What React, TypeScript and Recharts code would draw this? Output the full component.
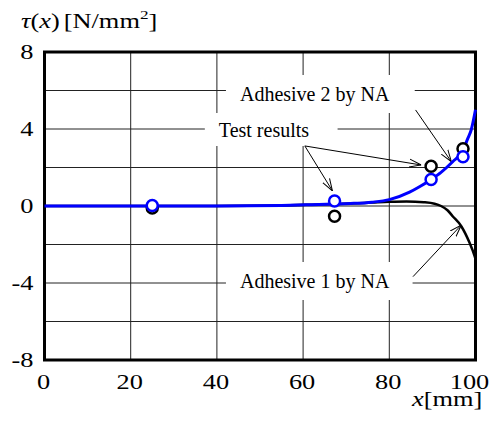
import {
  ComposedChart,
  Line,
  Scatter,
  XAxis,
  YAxis,
  CartesianGrid,
  ReferenceArea,
  ReferenceLine,
  Customized,
} from 'recharts';

// NA curves
const adhesive2NA = [
  { x: 0, y: 0 }, { x: 40, y: 0 }, { x: 55, y: 0.03 }, { x: 62, y: 0.07 },
  { x: 67, y: 0.1 }, { x: 71, y: 0.13 }, { x: 76, y: 0.2 }, { x: 80, y: 0.33 },
  { x: 84.7, y: 0.72 }, { x: 87, y: 1.0 }, { x: 89.7, y: 1.38 }, { x: 92, y: 1.75 },
  { x: 94.7, y: 2.3 }, { x: 97, y: 2.85 }, { x: 98.2, y: 3.5 }, { x: 99, y: 3.95 },
  { x: 100, y: 5.0 },
];

const adhesive1NA = [
  { x: 0, y: 0 }, { x: 40, y: 0 }, { x: 55, y: 0.03 }, { x: 62, y: 0.07 },
  { x: 67, y: 0.1 }, { x: 71, y: 0.13 }, { x: 76, y: 0.18 }, { x: 80, y: 0.22 },
  { x: 84, y: 0.24 }, { x: 88, y: 0.2 }, { x: 90.5, y: 0.12 }, { x: 92, y: 0 },
  { x: 93.5, y: -0.22 }, { x: 94.7, y: -0.53 }, { x: 96.7, y: -1.05 },
  { x: 98.6, y: -1.9 }, { x: 99.8, y: -2.6 }, { x: 100, y: -2.75 },
];

// circles
const naPoints = [
  { x: 25, y: 0.03 }, { x: 67.3, y: 0.26 }, { x: 89.7, y: 1.38 }, { x: 97.1, y: 2.56 },
];
const testResults = [
  { x: 25, y: -0.1 }, { x: 67.3, y: -0.53 }, { x: 89.7, y: 2.07 }, { x: 97.1, y: 2.97 },
];

const xTicks = [0, 20, 40, 60, 80, 100];
const yTicks = [-8, -4, 0, 4, 8];
const gridX = [20, 40, 60, 80];
const gridY = [-6, -4, -2, 0, 2, 4, 6];

// annotation boxes and arrows, in data units
const notes = [
  { text: 'Adhesive 2 by NA', x1: 42.1, x2: 85.9, y1: 4.83, y2: 6.8 },
  { text: 'Test results', x1: 37.2, x2: 68.0, y1: 3.12, y2: 4.83 },
  { text: 'Adhesive 1 by NA', x1: 42.1, x2: 85.4, y1: -4.88, y2: -2.91 },
];
const arrows = [
  [{ x: 86.1, y: 4.99 }, { x: 94.4, y: 2.3 }],
  [{ x: 60.4, y: 3.12 }, { x: 66.8, y: 0.79 }],
  [{ x: 60.4, y: 3.12 }, { x: 87.4, y: 2.13 }],
  [{ x: 85.5, y: -3.67 }, { x: 96.7, y: -0.99 }],
];

const FONT = '"Liberation Serif", "Times New Roman", serif';
const STRETCH = 1.32; // axis texts in the original are widened

const Circle = (stroke: string) => (props: any) => (
  <circle cx={props.cx} cy={props.cy} r={5.5} fill="#fff" stroke={stroke} strokeWidth={2.5} />
);

const XTick = (props: any) => {
  const v = props.payload.value;
  const last = v === xTicks[xTicks.length - 1];
  const x = last ? props.x - 6 : props.x - 1;
  return (
    <text
      transform={`translate(${x},${props.y}) scale(${STRETCH},1)`}
      dy="0.71em"
      textAnchor="middle"
      fontFamily={FONT}
      fontSize={20}
      fill="#000"
    >
      {v}
    </text>
  );
};

const YTick = (props: any) => (
  <text
    transform={`translate(${props.x},${props.y}) scale(${STRETCH},1)`}
    dy="0.35em"
    textAnchor="end"
    fontFamily={FONT}
    fontSize={20}
    fill="#000"
  >
    {props.payload.value}
  </text>
);

const Extras = () => (
  <g>
    <defs>
      <marker id="arr" viewBox="0 0 12 10" refX="12" refY="5" markerWidth="12" markerHeight="10"
        markerUnits="userSpaceOnUse" orient="auto">
        <path d="M0,1 L12,5 L0,9" fill="none" stroke="#000" strokeWidth={1} />
      </marker>
    </defs>
    <text transform={`translate(21,28) scale(${STRETCH},1)`} fontFamily={FONT} fontSize={20} fill="#000">
      <tspan fontStyle="italic">τ</tspan>(<tspan fontStyle="italic">x</tspan>)<tspan dx={3}>[N/mm</tspan>
      <tspan fontSize={13} dy={-9}>2</tspan>
      <tspan dy={9}>]</tspan>
    </text>
    <text transform={`translate(412,406) scale(${STRETCH},1)`} fontFamily={FONT} fontSize={20} fill="#000">
      <tspan fontStyle="italic">x</tspan>[mm]
    </text>
  </g>
);

export default function App() {
  return (
    <div style={{ position: 'absolute', left: 0, top: 0, background: '#fff' }}>
      <ComposedChart width={497} height={423} margin={{ top: 52, right: 21.5, bottom: 33, left: 0 }}>
        <CartesianGrid
          stroke="#222"
          strokeWidth={1}
          horizontalValues={gridY}
          verticalValues={gridX}
        />
        <XAxis
          type="number"
          dataKey="x"
          domain={[0, 100]}
          ticks={xTicks}
          tickSize={0}
          tickMargin={14.5}
          axisLine={false}
          tick={<XTick />}
          height={30}
        />
        <YAxis
          type="number"
          dataKey="y"
          domain={[-8, 8]}
          ticks={yTicks}
          tickSize={0}
          tickMargin={11}
          axisLine={false}
          tick={<YTick />}
          width={44.5}
        />
        {notes.map((n) => (
          <ReferenceArea
            key={n.text}
            x1={n.x1}
            x2={n.x2}
            y1={n.y1}
            y2={n.y2}
            fill="#fff"
            fillOpacity={1}
            stroke="none"
            label={{ value: n.text, position: 'insideLeft', offset: 14, fontSize: 20, fontFamily: FONT, fill: '#000' }}
          />
        ))}
        {arrows.map((seg, i) => (
          <ReferenceLine key={i} segment={seg} stroke="#000" strokeWidth={1} markerEnd="url(#arr)" ifOverflow="visible" />
        ))}
        <Line data={adhesive1NA} dataKey="y" type="monotone" stroke="#000" strokeWidth={2.5} dot={false} isAnimationActive={false} />
        <Line data={adhesive2NA} dataKey="y" type="monotone" stroke="#0000ff" strokeWidth={3} dot={false} isAnimationActive={false} />
        <Scatter data={testResults} dataKey="y" shape={Circle('#000')} isAnimationActive={false} />
        <Scatter data={naPoints} dataKey="y" shape={Circle('#0000ff')} isAnimationActive={false} />
        <ReferenceArea x1={0} x2={100} y1={-8} y2={8} fill="none" stroke="#000" strokeWidth={3} ifOverflow="visible" />
        <Customized component={<Extras />} />
      </ComposedChart>
    </div>
  );
}
